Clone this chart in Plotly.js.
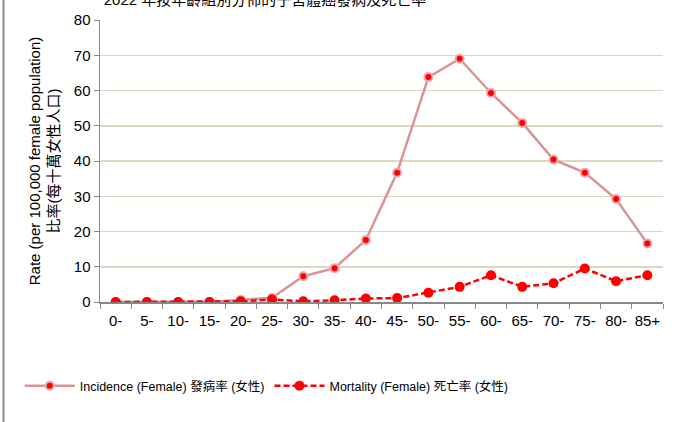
<!DOCTYPE html>
<html>
<head>
<meta charset="utf-8">
<script src="https://cdn.plot.ly/plotly-3.0.1.min.js"></script>
<style>
html,body{margin:0;padding:0;background:#fff;}
#chart{width:681px;height:422px;}
</style>
</head>
<body>
<div id="chart"></div>
<script>
var ageGroups = ["0-","5-","10-","15-","20-","25-","30-","35-","40-","45-","50-","55-","60-","65-","70-","75-","80-","85+"];
var incidence = [0.0,0.0,0.0,0.1,0.6,1.2,7.3,9.6,17.6,36.7,63.8,69.0,59.3,50.8,40.4,36.7,29.2,16.6];
var mortality = [0.0,0.0,0.0,0.0,0.2,0.7,0.2,0.5,1.0,1.1,2.6,4.3,7.6,4.3,5.3,9.5,5.9,7.6];
var incidenceName = "Incidence (Female) 發病率 (女性)";
var mortalityName = "Mortality (Female) 死亡率 (女性)";
var chartTitle = "2022 年按年齡組別分佈的子宮體癌發病及死亡率";
var yTitle = "Rate (per 100,000 female population)<br>比率(每十萬女性人口)";

var FONT = "Liberation Sans, Arial, 'Noto Sans CJK TC', sans-serif";

var traces = [
  {
    x: ageGroups, y: incidence, name: incidenceName, type: "scatter", mode: "lines+markers",
    line: {color: "#d99594", width: 2.5},
    marker: {color: "#ff0000", size: 8, line: {color: "#e6a8a8", width: 2}}
  },
  {
    x: ageGroups, y: mortality, name: mortalityName, type: "scatter", mode: "lines+markers",
    line: {color: "#ff0000", width: 2.5, dash: "6px,3px"},
    marker: {color: "#ff0000", size: 10}
  }
];

var layout = {
  width: 681, height: 422,
  margin: {l: 100, r: 18, t: 20, b: 120},
  paper_bgcolor: "#ffffff", plot_bgcolor: "#ffffff",
  font: {family: FONT, color: "#000000", size: 14},
  title: {text: chartTitle, x: 265/681, xanchor: "center", y: 1.0, yanchor: "middle", yref: "container",
          font: {family: FONT, size: 15, color: "#000"}},
  xaxis: {
    type: "category", range: [-0.5, ageGroups.length - 0.5], autorange: false,
    tickson: "boundaries", ticks: "outside", ticklen: 5, tickcolor: "#888",
    showline: true, linecolor: "#888", linewidth: 1.5, showgrid: false, zeroline: false,
    tickangle: 0, ticklabelstandoff: 4, tickfont: {family: FONT, size: 15}, fixedrange: true
  },
  yaxis: {
    range: [0, 80], dtick: 10, ticks: "outside", ticklen: 5, tickcolor: "#888",
    showline: true, linecolor: "#888", linewidth: 1.5,
    showgrid: true, gridcolor: "#dcd8c0", gridwidth: 1.5, zeroline: false,
    tickfont: {family: FONT, size: 15},
    title: {text: yTitle, font: {family: FONT, size: 15}, standoff: 10}
  },
  showlegend: true,
  legend: {orientation: "h", x: -0.1426, xanchor: "left", y: -0.298, yanchor: "middle",
           font: {family: FONT, size: 12.5}, itemwidth: 50, tracegroupgap: 0},
  shapes: [
    {type: "line", xref: "paper", yref: "paper", x0: -96.5/563, x1: -96.5/563, y0: -120/282, y1: 302/282,
     line: {color: "#8c8c8c", width: 2}}
  ]
};

Plotly.newPlot("chart", traces, layout, {displayModeBar: false, staticPlot: true});
</script>
</body>
</html>
